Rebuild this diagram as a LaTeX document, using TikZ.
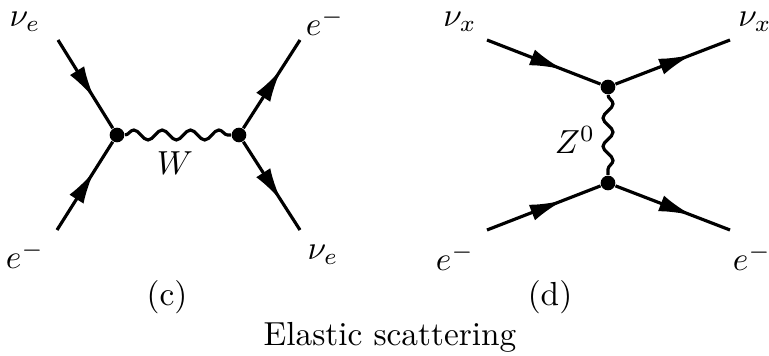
\documentclass[tikz,border=0pt]{standalone}
\usetikzlibrary{arrows.meta,decorations.markings,decorations.pathmorphing}
\begin{document}
\begin{tikzpicture}[x=0.3pt,y=-0.3pt,
  fermion/.style={line width=0.95pt, postaction={decorate},
    decoration={markings, mark=at position 0.67 with {\arrow{Latex[length=10pt,width=5pt]}}}},
  boson/.style={line width=0.95pt, decorate,
    decoration={snake, segment length=8.5pt, amplitude=1.5pt}},
  vertex/.style={circle, fill, inner sep=0pt, minimum size=4.4pt}]
\useasboundingbox (0,0) rectangle (769,356);
% (c) charged current
\node[vertex] (v1) at (117,135) {};
\node[vertex] (v2) at (239,135) {};
\coordinate (a1) at (58,40);
\coordinate (a2) at (57,230);
\coordinate (a3) at (300,40);
\coordinate (a4) at (300,230);
\draw[fermion] (a1) -- (v1);
\draw[fermion] (a2) -- (v1);
\draw[fermion] (v2) -- (a3);
\draw[fermion] (v2) -- (a4);
\draw[boson] (v1) -- (v2);
\node (la1) at (25,22) {$\nu_e$};
\node (la2) at (25,255) {$e^-$};
\node (la3) at (325,22) {$e^-$};
\node (la4) at (323,255) {$\nu_e$};
\node (lw) at (175,163) {$W$};
% (d) neutral current
\node[vertex] (u1) at (608,87) {};
\node[vertex] (u2) at (608,183) {};
\coordinate (b1) at (487,40);
\coordinate (b2) at (487,230);
\coordinate (b3) at (730,40);
\coordinate (b4) at (730,230);
\draw[fermion] (b1) -- (u1);
\draw[fermion] (u1) -- (b3);
\draw[fermion] (b2) -- (u2);
\draw[fermion] (u2) -- (b4);
\draw[boson] (u1) -- (u2);
\node (lb1) at (460,22) {$\nu_x$};
\node (lb2) at (455,257) {$e^-$};
\node (lb3) at (755,22) {$\nu_x$};
\node (lb4) at (752,257) {$e^-$};
\node (lz) at (575,140) {$Z^0$};
% captions
\node (capc) at (167,297) {(c)};
\node (capd) at (550,297) {(d)};
\node (title) at (390,337) {Elastic scattering};
\end{tikzpicture}
\end{document}
